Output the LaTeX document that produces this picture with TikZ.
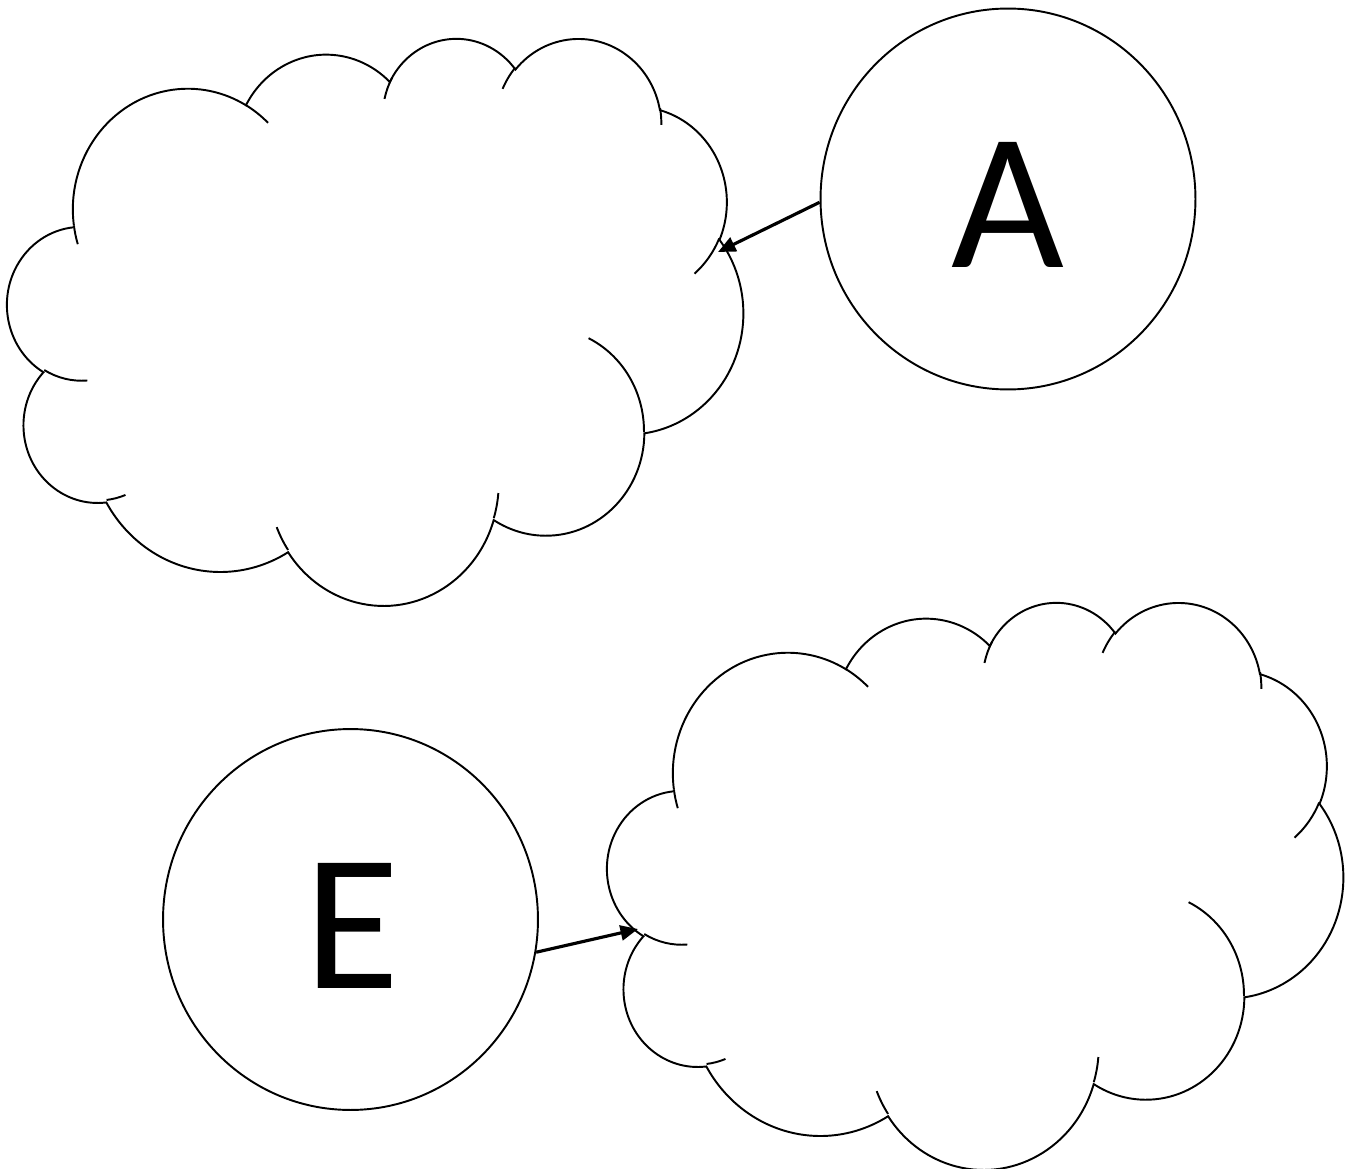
\documentclass[tikz,border=0pt]{standalone}
\usepackage{fontspec}
\setmainfont{Carlito}
\usetikzlibrary{shapes.geometric,arrows.meta}
% Office-style arc: wR hR (kilo-units), start angle, sweep (visual degrees)
\newcommand\oarc[4]{arc[x radius=#1, y radius=#2,
  start angle={atan2((#1)*sin(#3),(#2)*cos(#3))},
  delta angle={mod(atan2((#1)*sin(#3+#4),(#2)*cos(#3+#4))-atan2((#1)*sin(#3),(#2)*cos(#3))+720,360)}]}
\newcommand\cloudpath{%
  \draw[cloudline] (3.9,14.37)
    \oarc{6.753}{9.19}{-190.4875}{123.7805}
    \oarc{5.333}{7.267}{-144.1024}{89.9452}
    \oarc{4.365}{5.945}{-145.8079}{99.7230}
    \oarc{4.857}{6.595}{-130.9861}{117.2417}
    \oarc{5.333}{7.273}{-78.7089}{109.0269}
    \oarc{6.775}{9.22}{-46.2673}{130.2690}
    \oarc{5.785}{7.867}{0.6250}{114.0333}
    \oarc{6.752}{9.215}{22.4516}{115.1726}
    \oarc{7.72}{10.543}{66.2426}{75.7110}
    \oarc{4.36}{5.918}{-274.9421}{146.7356}
    \oarc{4.345}{5.945}{-246.8285}{152.5189};
  \draw[cloudline]
    (4.693,26.177) \oarc{4.345}{5.945}{86.7420}{26.4295}
    (6.928,34.899) \oarc{4.36}{5.918}{73.6105}{11.4475}
    (16.478,39.09) \oarc{6.752}{9.215}{137.6242}{14.0811}
    (28.827,34.751) \oarc{6.752}{9.215}{6.4533}{15.9984}
    (34.129,22.954) \oarc{5.785}{7.867}{-70.2924}{70.9174}
    (41.798,15.354) \oarc{5.333}{7.273}{30.3180}{27.7515}
    (38.324,5.426) \oarc{4.857}{6.595}{-13.7443}{14.8589}
    (29.078,3.952) \oarc{4.857}{6.595}{-149.1815}{18.1954}
    (22.141,4.72) \oarc{4.365}{5.945}{-163.4943}{20.5956}
    (14.0,5.192) \oarc{6.753}{9.19}{-66.7070}{12.3194}
    (4.127,15.789) \oarc{6.753}{9.19}{157.63}{11.88};}
\begin{document}
\begin{tikzpicture}[x=0.02cm,y=-0.02cm,
  cloudline/.style={line width=1.1pt,line cap=butt},
  circ/.style={draw,ellipse,line width=1.1pt,minimum width=7.5cm,minimum height=7.62cm,inner sep=0pt},
  letter/.style={inner sep=0pt,font=\fontsize{111}{111}\selectfont},
  conn/.style={line width=1.8pt,-{Triangle[length=0.35cm,width=0.3cm]}}]
\useasboundingbox (0,0) rectangle (1349,1169);
% clouds
\begin{scope}[shift={(7.5,37)},x=1cm,y=1cm,xscale=0.3406,yscale=-0.2625]
  \cloudpath
\end{scope}
\begin{scope}[shift={(607.5,601)},x=1cm,y=1cm,xscale=0.3406,yscale=-0.2625]
  \cloudpath
\end{scope}
% circles
\node[circ] (A) at (1008,199) {};
\node[letter] (Alabel) at (1008,204.5) {A};
\node[circ] (E) at (350.5,919.5) {};
\node[letter] (Elabel) at (352.5,925.5) {E};
% connector ends on the clouds
\coordinate (c1tip) at (718,252);
\coordinate (c2tip) at (638,929);
\draw[conn] (A.181) -- (c1tip);
\draw[conn] (E.-10) -- (c2tip);
\end{tikzpicture}
\end{document}
